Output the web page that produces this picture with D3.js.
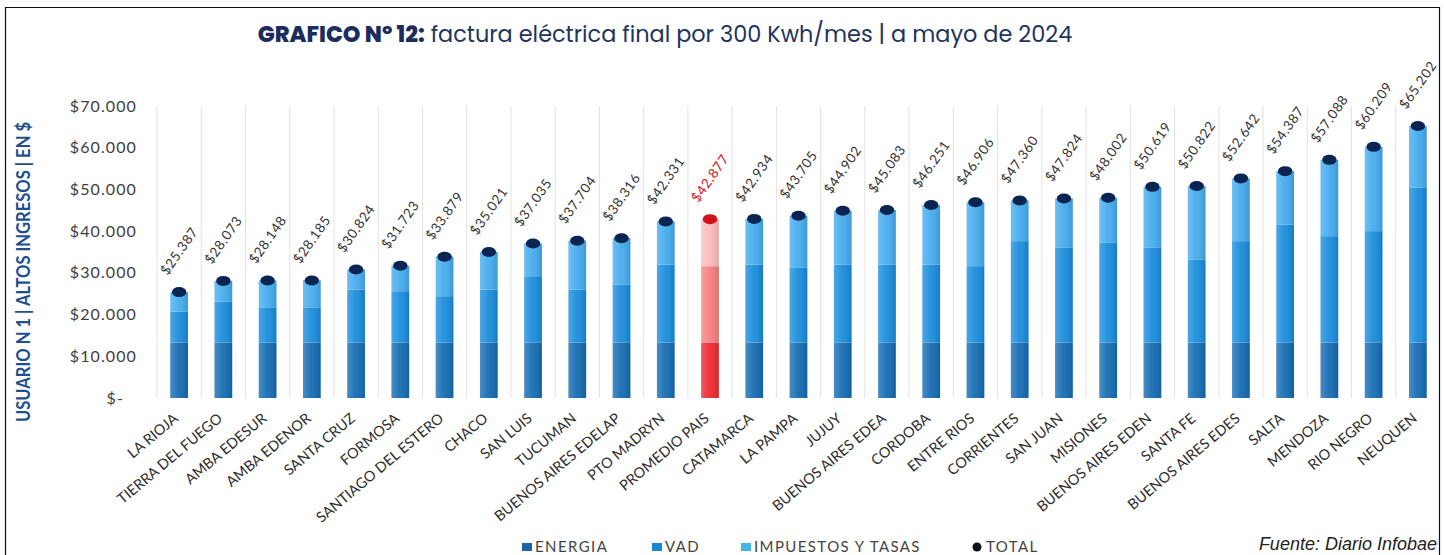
<!DOCTYPE html>
<html>
<head>
<meta charset="utf-8">
<script src="https://cdn.jsdelivr.net/npm/d3@7"></script>
<style>
  body { margin: 0; background: #fff; }
  svg text { font-family: Lato, "Open Sans", sans-serif; }
</style>
</head>
<body>
<svg id="chart" width="1444" height="555"></svg>
<script>
(function(d3){

    // categorias (provincias / distribuidoras)
    var categorias = ["LA RIOJA", "TIERRA DEL FUEGO", "AMBA EDESUR", "AMBA EDENOR", "SANTA CRUZ",
        "FORMOSA", "SANTIAGO DEL ESTERO", "CHACO", "SAN LUIS", "TUCUMAN", "BUENOS AIRES EDELAP",
        "PTO MADRYN", "PROMEDIO PAIS", "CATAMARCA", "LA PAMPA", "JUJUY", "BUENOS AIRES EDEA",
        "CORDOBA", "ENTRE RIOS", "CORRIENTES", "SAN JUAN", "MISIONES", "BUENOS AIRES EDEN",
        "SANTA FE", "BUENOS AIRES EDES", "SALTA", "MENDOZA", "RIO NEGRO", "NEUQUEN"];

    // componentes de la factura (estimados del grafico)
    var energia = [13300, 13300, 13300, 13300, 13300, 13300, 13300, 13300, 13300, 13300, 13300,
        13300, 13300, 13300, 13300, 13300, 13300, 13300, 13300, 13300, 13300, 13300, 13300,
        13300, 13300, 13300, 13300, 13300, 13300];
    var vad = [7400, 9800, 8300, 8300, 12700, 12300, 11100, 12700, 15900, 12700, 13900,
        18700, 18300, 18700, 17900, 18700, 18700, 18700, 18300, 24300, 22700, 23900, 22700,
        19900, 24300, 28300, 25500, 26700, 37100];
    var total = [25387, 28073, 28148, 28185, 30824, 31723, 33879, 35021, 37035, 37704, 38316,
        42331, 42877, 42934, 43705, 44902, 45083, 46251, 46906, 47360, 47824, 48002, 50619,
        50822, 52642, 54387, 57088, 60209, 65202];
    // impuestos y tasas = total - energia - vad
    var impuestos = total.map(function(t, i){ return t - energia[i] - vad[i]; });

    var yTicks = [0, 10000, 20000, 30000, 40000, 50000, 60000, 70000];
    var coloresAzul = ["#156cb3", "#1a8ddc", "#45acef"];
    var coloresRojo = ["#ee2a2f", "#f77f80", "#fbbcbc"];
    var promedio = "PROMEDIO PAIS";

    var svg = d3.select("#chart");
    var fmt = function(v){ return "$" + d3.format(",")(v).replace(/,/g, "."); };

    var x = d3.scaleBand()
            .domain(categorias)
            .range([157, 1440])
            .paddingInner(0.6)
            .paddingOuter(0.3);
    var y = d3.scaleLinear()
            .domain([0, 70000])
            .range([398, 106]);

    // marco
    svg.append("path")
            .attr("d", "M5.5,560 V7.5 H1439.5 V560")
            .attr("fill", "none")
            .attr("stroke", "#111")
            .attr("stroke-width", 1.2);

    // titulo (ajustado al ancho del original)
    var titulo = svg.append("text")
            .attr("x", 665)
            .attr("y", 42)
            .attr("text-anchor", "middle")
            .style("font-family", "Poppins, Inter, 'Open Sans', sans-serif")
            .style("font-size", "20px")
            .style("fill", "#22345e");
    titulo.append("tspan").style("font-weight", "800").style("fill", "#1a2d5c").text("GRAFICO Nº 12:");
    titulo.append("tspan").text(" factura eléctrica final por 300 Kwh/mes | a mayo de 2024");
    var anchoTitulo = titulo.node().getComputedTextLength();
    titulo.style("font-size", (20 * 815 / anchoTitulo) + "px");

    // lineas verticales entre categorias
    var paso = x.step();
    var inicio = x(categorias[0]) - x.paddingInner() * paso / 2;
    svg.append("g")
            .selectAll("line")
            .data(d3.range(categorias.length))
            .enter()
            .append("line")
            .attr("x1", function(i){ return inicio + i * paso; })
            .attr("x2", function(i){ return inicio + i * paso; })
            .attr("y1", 106)
            .attr("y2", 398)
            .attr("stroke", "#e2e2e2")
            .attr("stroke-width", 1);

    // eje y
    svg.append("g")
            .selectAll("text")
            .data(yTicks)
            .enter()
            .append("text")
            .attr("x", function(d){ return d === 0 ? 124 : 137; })
            .attr("y", function(d){ return y(d); })
            .attr("dy", "0.35em")
            .attr("text-anchor", "end")
            .style("font-size", "16px")
            .style("letter-spacing", "1.1px")
            .style("fill", "#404040")
            .text(function(d){ return d === 0 ? "$-" : fmt(d); });

    svg.append("text")
            .attr("transform", "translate(30,272) rotate(-90)")
            .attr("text-anchor", "middle")
            .attr("textLength", 300)
            .attr("lengthAdjust", "spacingAndGlyphs")
            .style("font-size", "19px")
            .style("font-weight", "700")
            .style("fill", "#1f4f8f")
            .text("USUARIO N 1 | ALTOS INGRESOS | EN $");

    // barras apiladas
    var filas = categorias.map(function(c, i){
        return {cat: c, energia: energia[i], vad: vad[i], impuestos: impuestos[i], total: total[i]};
    });
    var stack = d3.stack().keys(["energia", "vad", "impuestos"])(filas);

    var defs = svg.append("defs");
    var grad = defs.append("linearGradient").attr("id", "cilindro").attr("x1", "0").attr("x2", "1");
    grad.append("stop").attr("offset", "0").attr("stop-color", "#fff").attr("stop-opacity", 0.22);
    grad.append("stop").attr("offset", "0.45").attr("stop-color", "#fff").attr("stop-opacity", 0.06);
    grad.append("stop").attr("offset", "1").attr("stop-color", "#000").attr("stop-opacity", 0.12);

    svg.append("g")
            .selectAll("g")
            .data(stack)
            .enter()
            .append("g")
            .each(function(serie, k){
                d3.select(this).selectAll("rect")
                        .data(serie)
                        .enter()
                        .append("rect")
                        .attr("x", function(d){ return x(d.data.cat); })
                        .attr("width", x.bandwidth())
                        .attr("y", function(d){ return y(d[1]); })
                        .attr("height", function(d){ return y(d[0]) - y(d[1]); })
                        .attr("fill", function(d){ return d.data.cat === promedio ? coloresRojo[k] : coloresAzul[k]; });
            });

    svg.append("g")
            .selectAll("rect")
            .data(filas)
            .enter()
            .append("rect")
            .attr("x", function(d){ return x(d.cat); })
            .attr("width", x.bandwidth())
            .attr("y", function(d){ return y(d.total); })
            .attr("height", function(d){ return y(0) - y(d.total); })
            .attr("fill", "url(#cilindro)");

    // puntos del total
    svg.append("g")
            .selectAll("ellipse")
            .data(filas)
            .enter()
            .append("ellipse")
            .attr("cx", function(d){ return x(d.cat) + x.bandwidth() / 2; })
            .attr("cy", function(d){ return y(d.total); })
            .attr("rx", 7.2)
            .attr("ry", 5)
            .attr("fill", function(d){ return d.cat === promedio ? "#d0101c" : "#0b2452"; });

    // etiquetas de valor
    svg.append("g")
            .selectAll("text")
            .data(filas)
            .enter()
            .append("text")
            .attr("transform", function(d){
                return "translate(" + (x(d.cat) + x.bandwidth() / 2) + "," + (y(d.total) - 41) + ") rotate(-55)";
            })
            .attr("text-anchor", "middle")
            .attr("dy", "0.35em")
            .style("font-size", "13.5px")
            .style("letter-spacing", "0.6px")
            .style("fill", function(d){ return d.cat === promedio ? "#e0101c" : "#333"; })
            .text(function(d){ return fmt(d.total); });

    // etiquetas del eje x
    svg.append("g")
            .selectAll("text")
            .data(categorias)
            .enter()
            .append("text")
            .attr("transform", function(c){
                return "translate(" + (x(c) + x.bandwidth() / 2) + ",420) rotate(-40)";
            })
            .attr("text-anchor", "end")
            .style("font-size", "14.5px")
            .style("fill", "#2e2e2e")
            .text(function(c){ return c; });

    // leyenda
    var leyenda = [
        {nombre: "ENERGIA", color: "#1b63a6", x: 522, forma: "rect"},
        {nombre: "VAD", color: "#1a86d2", x: 652, forma: "rect"},
        {nombre: "IMPUESTOS Y TASAS", color: "#45b3e6", x: 741, forma: "rect"},
        {nombre: "TOTAL", color: "#111", x: 973, forma: "circle"}
    ];
    var items = svg.append("g")
            .selectAll("g")
            .data(leyenda)
            .enter()
            .append("g")
            .attr("transform", function(d){ return "translate(" + d.x + ",547)"; });
    items.filter(function(d){ return d.forma === "rect"; })
            .append("rect")
            .attr("x", 0).attr("y", -4)
            .attr("width", 10).attr("height", 8)
            .attr("fill", function(d){ return d.color; });
    items.filter(function(d){ return d.forma === "circle"; })
            .append("circle")
            .attr("cx", 4).attr("cy", 0).attr("r", 4.5)
            .attr("fill", function(d){ return d.color; });
    items.append("text")
            .attr("x", function(d){ return d.forma === "circle" ? 13 : 13; })
            .attr("dy", "0.35em")
            .style("font-size", "15px")
            .style("letter-spacing", "1.4px")
            .style("fill", "#444")
            .text(function(d){ return d.nombre; });

    svg.append("text")
            .attr("x", 1437)
            .attr("y", 550)
            .attr("text-anchor", "end")
            .style("font-family", "'Liberation Sans', Arial, sans-serif")
            .style("font-style", "italic")
            .style("font-size", "18px")
            .style("fill", "#222")
            .text("Fuente: Diario Infobae");

})(d3);
</script>
</body>
</html>
